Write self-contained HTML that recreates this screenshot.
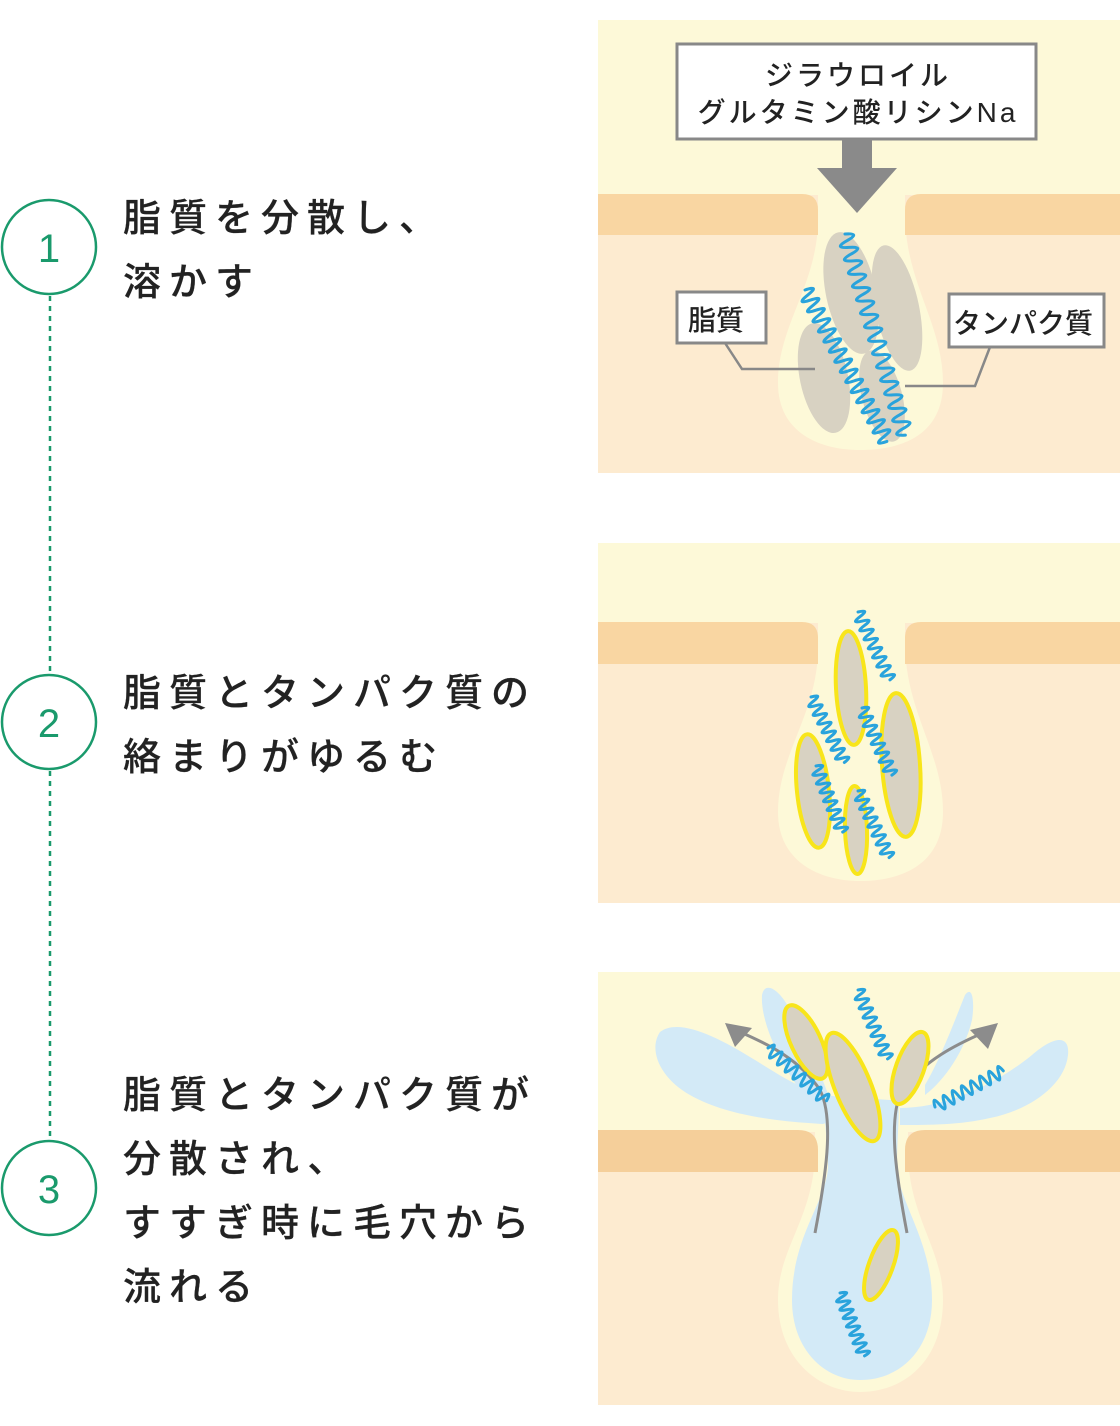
<!DOCTYPE html>
<html><head><meta charset="utf-8"><style>
html,body{margin:0;padding:0;background:#fff;}
body{width:1120px;height:1421px;overflow:hidden;}
text{font-family:"Liberation Sans","Noto Sans CJK JP",sans-serif;}
</style></head><body>
<svg width="1120" height="1421" viewBox="0 0 1120 1421" xmlns="http://www.w3.org/2000/svg">
<defs>
<path id="wl" d="M0 0 q3.5 -16 7 0 t7 0 t7 0 t7 0 t7 0 t7 0 t7 0 t7 0 t7 0 t7 0 t7 0 t7 0 t7 0 t7 0 t7 0 t7 0 t7 0 t7 0 t7 0 t7 0 t7 0 t7 0 t7 0 t7 0 t7 0 t7 0 t7 0 t7 0 t7 0 t7 0" fill="none" stroke="#29a3dc" stroke-width="3" stroke-linecap="round" vector-effect="non-scaling-stroke"/>
<path id="ws" d="M0 0 q2.5 -9 5 0 t5 0 t5 0 t5 0 t5 0 t5 0 t5 0 t5 0 t5 0 t5 0 t5 0 t5 0 t5 0 t5 0 t5 0" fill="none" stroke="#29a3dc" stroke-width="3" stroke-linecap="round" vector-effect="non-scaling-stroke"/>
</defs>

<!-- left column -->
<g fill="none" stroke="#1a9a6c" stroke-width="2.5">
<circle cx="49" cy="247" r="47"/><circle cx="49" cy="722" r="47"/><circle cx="49" cy="1188" r="47"/>
</g>
<g stroke="#1a9a6c" stroke-width="2.5" stroke-dasharray="5 5">
<line x1="50" y1="296" x2="50" y2="673"/><line x1="50" y1="771" x2="50" y2="1139"/>
</g>
<g fill="#1a9a6c" font-size="40" text-anchor="middle">
<text x="49" y="262">1</text><text x="49" y="737">2</text><text x="49" y="1203">3</text>
</g>
<g fill="#222" font-size="38" letter-spacing="8" font-weight="500" stroke="#222" stroke-width="0.2">
<text x="123" y="231">脂質を分散し、</text>
<text x="123" y="295">溶かす</text>
<text x="123" y="706">脂質とタンパク質の</text>
<text x="123" y="770">絡まりがゆるむ</text>
<text x="123" y="1108">脂質とタンパク質が</text>
<text x="123" y="1172">分散され、</text>
<text x="123" y="1236">すすぎ時に毛穴から</text>
<text x="123" y="1300">流れる</text>
</g>

<!-- Panel 1 -->
<rect x="598" y="20" width="522" height="453" fill="#fdebd0"/>
<rect x="598" y="20" width="522" height="175" fill="#fdf9d8"/>
<path d="M818 190 L818 213 C820 283,778 323,778 383 C778 433,820 450,860 450 C905 450,943 433,943 383 C943 323,905 283,905 213 L905 190 Z" fill="#fdf9d8"/>
<path d="M598 194 H802 Q818 194 818 210 V235 H598 Z" fill="#f9d6a2"/>
<path d="M1120 194 H921 Q905 194 905 210 V235 H1120 Z" fill="#f9d6a2"/>
<g fill="#d8d2c2">
<ellipse cx="851" cy="293" rx="25" ry="62" transform="rotate(-12 851 293)"/>
<ellipse cx="897" cy="308" rx="22" ry="64" transform="rotate(-12 897 308)"/>
<ellipse cx="824" cy="378" rx="24" ry="56" transform="rotate(-12 824 378)"/>
<ellipse cx="882" cy="396" rx="20" ry="47" transform="rotate(-15 882 396)"/>
</g>
<use href="#wl" transform="translate(845 234) rotate(73.3) scale(1.0 1)"/>
<use href="#wl" transform="translate(805 290) rotate(61.6) scale(0.82 1)"/>
<rect x="677" y="44" width="359" height="95" fill="#fff" stroke="#888" stroke-width="3"/>
<g fill="#222" font-size="28" text-anchor="middle" letter-spacing="3" font-weight="500">
<text x="858" y="85">ジラウロイル</text>
<text x="858" y="122">グルタミン酸リシンNa</text>
</g>
<rect x="842" y="139" width="30" height="30" fill="#8a8a8a"/>
<polygon points="817,168 897,168 857,213" fill="#8a8a8a"/>
<polyline points="725,343 742,369 815,369" fill="none" stroke="#888" stroke-width="2.5"/>
<polyline points="990,347 975,386 905,386" fill="none" stroke="#888" stroke-width="2.5"/>
<rect x="677" y="292" width="89" height="51" fill="#fff" stroke="#888" stroke-width="3"/>
<rect x="949" y="294" width="155" height="53" fill="#fff" stroke="#888" stroke-width="3"/>
<g fill="#222" font-size="28" font-weight="500">
<text x="688" y="330">脂質</text>
<text x="953" y="333">タンパク質</text>
</g>

<!-- Panel 2 -->
<rect x="598" y="543" width="522" height="360" fill="#fdebd0"/>
<rect x="598" y="543" width="522" height="80" fill="#fdf9d8"/>
<path d="M818 618 L818 642 C820 712,778 752,778 812 C778 862,820 881,860 881 C905 881,943 862,943 812 C943 752,905 712,905 642 L905 618 Z" fill="#fdf9d8"/>
<path d="M598 622 H802 Q818 622 818 638 V664 H598 Z" fill="#f9d6a2"/>
<path d="M1120 622 H921 Q905 622 905 638 V664 H1120 Z" fill="#f9d6a2"/>
<g fill="#d8d2c2" stroke="#f8e51a" stroke-width="4">
<ellipse cx="851" cy="688" rx="15" ry="57" transform="rotate(-3 851 688)"/>
<ellipse cx="901" cy="765" rx="19" ry="72" transform="rotate(-4 901 765)"/>
<ellipse cx="813" cy="791" rx="16" ry="57" transform="rotate(-6 813 791)"/>
<ellipse cx="856" cy="830" rx="11" ry="44" transform="rotate(-2 856 830)"/>
</g>
<use href="#ws" transform="translate(858 612) rotate(64.8) scale(1.0 1.4)"/>
<use href="#ws" transform="translate(811 697) rotate(63) scale(0.98 1.4)"/>
<use href="#ws" transform="translate(862 708) rotate(66) scale(0.98 1.4)"/>
<use href="#ws" transform="translate(816 766) rotate(68) scale(0.95 1.4)"/>
<use href="#ws" transform="translate(858 791) rotate(65) scale(0.98 1.4)"/>

<!-- Panel 3 -->
<rect x="598" y="972" width="522" height="433" fill="#fdebd0"/>
<rect x="598" y="972" width="522" height="160" fill="#fdf9d8"/>
<path d="M815 1125 L815 1140 C818 1215,778 1245,778 1300 C778 1360,820 1392,860 1392 C905 1392,943 1360,943 1300 C943 1245,905 1215,908 1140 L908 1125 Z" fill="#fdf9d8"/>
<path d="M598 1130 H798 Q818 1130 818 1150 V1172 H598 Z" fill="#f5cf9a"/>
<path d="M1120 1130 H925 Q905 1130 905 1150 V1172 H1120 Z" fill="#f5cf9a"/>
<g fill="#d3eaf7">
<path d="M823 1124 C790 1122,730 1118,690 1095 C660 1078,648 1050,660 1032 C678 1018,715 1035,755 1060 C795 1085,815 1098,860 1098 L890 1100 Z"/>
<path d="M900 1108 C945 1108,995 1085,1032 1055 C1055 1035,1070 1035,1068 1055 C1065 1085,1030 1110,990 1118 C960 1125,930 1125,900 1125 Z"/>
<path d="M800 1090 C785 1070,760 1025,762 995 C765 980,780 990,790 1010 C805 1040,820 1070,830 1100 Z"/>
<path d="M925 1085 C940 1060,955 1020,965 995 C972 985,975 1000,972 1020 C965 1050,945 1080,925 1095 Z"/>
<path d="M827 1100 C822 1120,828 1135,828 1165 C828 1200,792 1235,792 1300 C792 1350,825 1380,860 1380 C900 1380,932 1350,932 1300 C932 1240,897 1200,897 1165 C897 1135,900 1115,898 1100 Z"/>
</g>
<g fill="none" stroke="#8c8c8c" stroke-width="3">
<path d="M815 1233 C825 1180,835 1120,820 1090 C800 1060,770 1045,740 1032"/>
<path d="M907 1233 C897 1180,887 1120,902 1090 C925 1060,955 1045,985 1032"/>
</g>
<polygon points="725,1023 752,1028 735,1047" fill="#8c8c8c"/>
<polygon points="998,1023 988,1049 970,1030" fill="#8c8c8c"/>
<g fill="#d8d2c2" stroke="#f8e51a" stroke-width="4">
<ellipse cx="806" cy="1042" rx="15" ry="40" transform="rotate(-25 806 1042)"/>
<ellipse cx="853" cy="1087" rx="18" ry="58" transform="rotate(-22 853 1087)"/>
<ellipse cx="910" cy="1068" rx="14" ry="38" transform="rotate(20 910 1068)"/>
<ellipse cx="881" cy="1265" rx="12" ry="37" transform="rotate(20 881 1265)"/>
</g>
<use href="#ws" transform="translate(858 990) rotate(66.8) scale(1.0 1.4)"/>
<use href="#ws" transform="translate(768 1048) rotate(42) scale(1.05 1.4)"/>
<use href="#ws" transform="translate(935 1107) rotate(-27.9) scale(1.03 1.4)"/>
<use href="#ws" transform="translate(840 1293) rotate(68.7) scale(0.9 1.4)"/>
</svg>
</body></html>
